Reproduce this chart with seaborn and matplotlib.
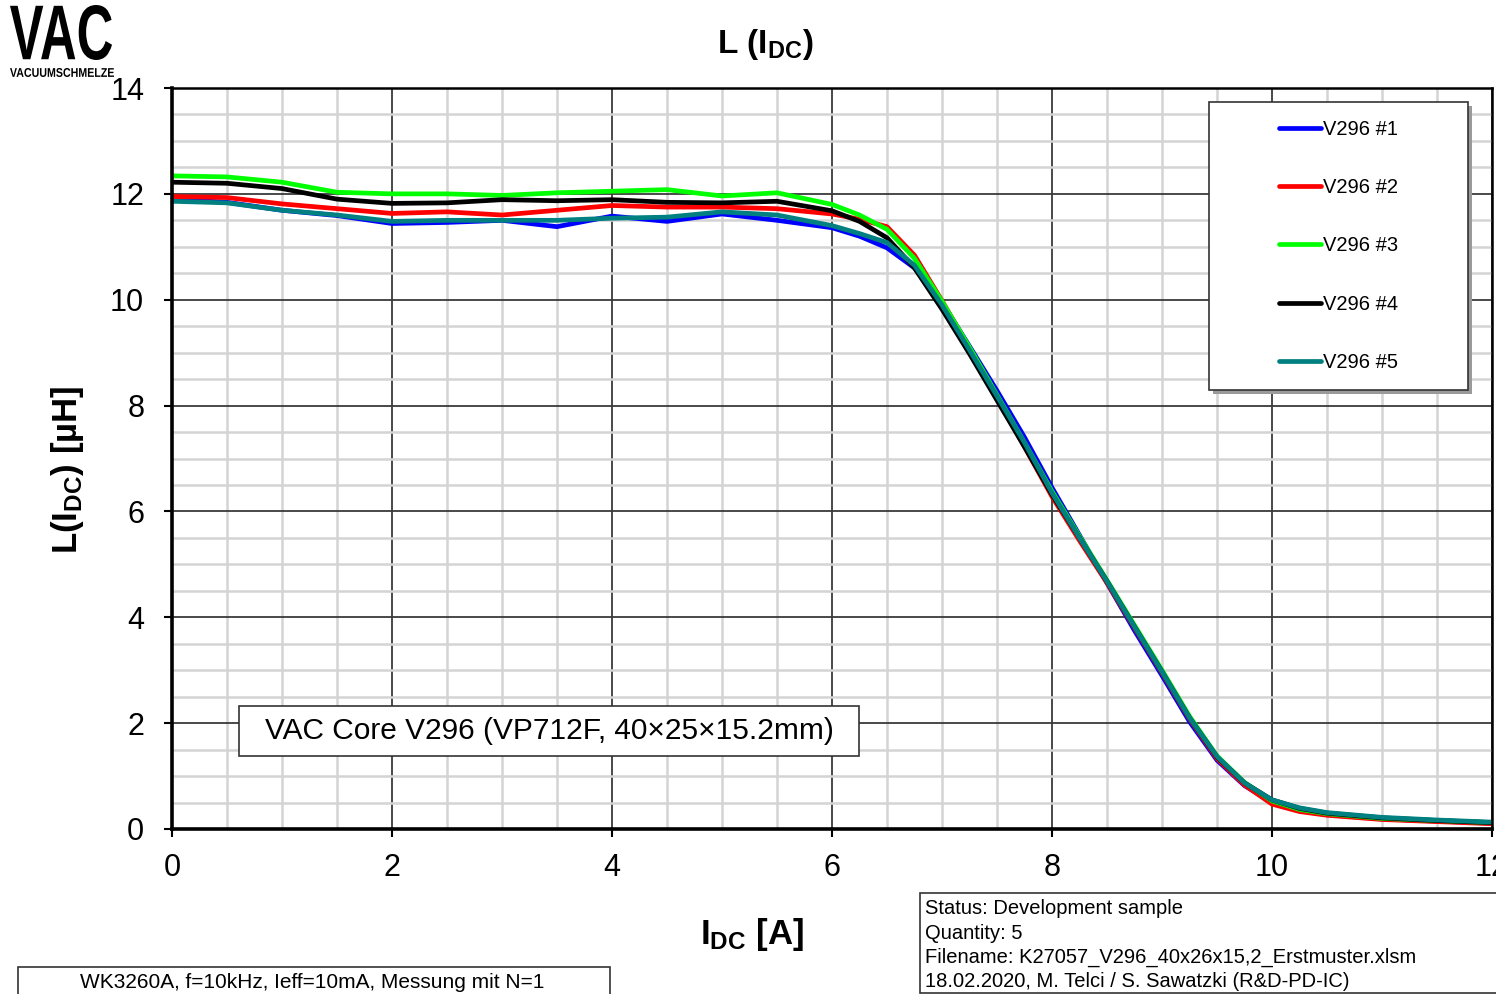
import matplotlib
matplotlib.use("Agg")
import matplotlib.pyplot as plt
import pandas as pd
import seaborn as sns
from matplotlib.font_manager import FontProperties
from matplotlib.lines import Line2D
from matplotlib.patches import PathPatch, Rectangle
from matplotlib.textpath import TextPath
from matplotlib.ticker import MultipleLocator
from matplotlib.transforms import Affine2D

# measured points, I_DC in A
current = [0, 0.5, 1, 1.5, 2, 2.5, 3, 3.5, 4, 4.5, 5, 5.5, 6, 6.25, 6.5, 6.75,
           7, 7.25, 7.5, 7.75, 8, 8.25, 8.5, 8.75, 9, 9.25, 9.5, 9.75, 10,
           10.25, 10.5, 11, 11.5, 12]

# inductance in uH
v296_1 = [11.90, 11.84, 11.69, 11.59, 11.44, 11.46, 11.50, 11.38, 11.58, 11.48,
          11.62, 11.50, 11.36, 11.20, 10.98, 10.60, 9.95, 9.12, 8.28, 7.40,
          6.45, 5.55, 4.65, 3.75, 2.90, 2.03, 1.30, 0.82, 0.50, 0.35, 0.27,
          0.19, 0.15, 0.11]
v296_2 = [11.95, 11.93, 11.81, 11.72, 11.63, 11.66, 11.60, 11.69, 11.78, 11.75,
          11.75, 11.72, 11.62, 11.52, 11.38, 10.84, 9.98, 9.08, 8.15, 7.22,
          6.28, 5.45, 4.65, 3.80, 2.95, 2.08, 1.33, 0.83, 0.47, 0.33, 0.26,
          0.18, 0.14, 0.10]
v296_3 = [12.34, 12.32, 12.22, 12.03, 12.00, 12.00, 11.97, 12.02, 12.05, 12.08,
          11.96, 12.02, 11.80, 11.60, 11.33, 10.78, 9.97, 9.10, 8.20, 7.30,
          6.38, 5.53, 4.70, 3.85, 3.00, 2.13, 1.38, 0.88, 0.53, 0.37, 0.29,
          0.20, 0.16, 0.12]
v296_4 = [12.22, 12.20, 12.10, 11.90, 11.82, 11.83, 11.89, 11.87, 11.89, 11.84,
          11.83, 11.86, 11.68, 11.48, 11.17, 10.60, 9.82, 8.98, 8.10, 7.22,
          6.32, 5.50, 4.68, 3.82, 2.97, 2.10, 1.36, 0.87, 0.55, 0.39, 0.30,
          0.21, 0.16, 0.12]
v296_5 = [11.86, 11.83, 11.69, 11.60, 11.48, 11.50, 11.50, 11.50, 11.54, 11.56,
          11.66, 11.60, 11.40, 11.25, 11.08, 10.65, 9.90, 9.05, 8.18, 7.30,
          6.35, 5.50, 4.68, 3.82, 2.97, 2.10, 1.37, 0.87, 0.55, 0.40, 0.31,
          0.22, 0.17, 0.13]

names = ["V296 #1", "V296 #2", "V296 #3", "V296 #4", "V296 #5"]
colors = ["#0000ff", "#ff0000", "#00ff00", "#000000", "#008080"]

df = pd.concat([
    pd.DataFrame({"I": current, "L": vals, "sample": name})
    for name, vals in zip(names, [v296_1, v296_2, v296_3, v296_4, v296_5])
])

sns.set_theme(style="white")
plt.rcParams["font.family"] = ["Liberation Sans", "DejaVu Sans"]
plt.rcParams["mathtext.fontset"] = "custom"
plt.rcParams["mathtext.rm"] = "Liberation Sans"
plt.rcParams["mathtext.bf"] = "Liberation Sans:bold"
plt.rcParams["mathtext.it"] = "Liberation Sans:italic"
for key in ["text.color", "axes.labelcolor", "xtick.color", "ytick.color"]:
    plt.rcParams[key] = "black"

W, H = 1496, 994
fig = plt.figure(figsize=(W / 100, H / 100), dpi=100)
ax = fig.add_axes([172 / W, 1 - 829 / H, 1320 / W, 741 / H])

sns.lineplot(data=df, x="I", y="L", hue="sample", palette=colors,
             linewidth=3.4, ax=ax, legend=False, sort=False,
             solid_joinstyle="round", solid_capstyle="round")

ax.set_xlim(0, 12)
ax.set_ylim(0, 14)
ax.xaxis.set_major_locator(MultipleLocator(2))
ax.yaxis.set_major_locator(MultipleLocator(2))
ax.xaxis.set_minor_locator(MultipleLocator(0.5))
ax.yaxis.set_minor_locator(MultipleLocator(0.5))
ax.grid(which="minor", color="#d4d4d4", linewidth=1.8)
ax.grid(which="major", color="#3a3a3a", linewidth=1.3)
ax.set_axisbelow(True)

for side in ["left", "bottom"]:
    ax.spines[side].set_linewidth(2.6)
    ax.spines[side].set_color("black")
for side in ["top", "right"]:
    ax.spines[side].set_linewidth(1.8)
    ax.spines[side].set_color("black")

ax.tick_params(which="major", direction="out", length=6, width=1.5,
               labelsize=22, color="black", left=True, bottom=True)
ax.tick_params(axis="x", pad=11)
ax.tick_params(axis="y", pad=14)
ax.tick_params(which="minor", length=0)

ax.set_xlabel(r"$\mathbf{I_{DC}}$ [A]", fontsize=25, fontweight="bold")
ax.set_ylabel(r"$\mathbf{L(I_{DC})}$ [µH]", fontsize=25, fontweight="bold")
ax.xaxis.set_label_coords((752 - 172) / 1320, -(916 - 829) / 741)
ax.yaxis.set_label_coords(-(172 - 86) / 1320, 0.485)

fig.text(765 / W, 1 - 45 / H, r"L ($\mathbf{I_{DC}}$)", fontsize=24,
         fontweight="bold", ha="center", va="center")

# legend with shadowed frame
lx0, lx1 = (1209 - 172) / 1320, (1468 - 172) / 1320
ly0, ly1 = (829 - 390) / 741, (829 - 102) / 741
ax.add_patch(Rectangle((lx0 + 0.003, ly0 - 0.005), lx1 - lx0, ly1 - ly0,
                       transform=ax.transAxes, facecolor="#9a9a9a",
                       edgecolor="none", zorder=4))
ax.add_patch(Rectangle((lx0, ly0), lx1 - lx0, ly1 - ly0,
                       transform=ax.transAxes, facecolor="white",
                       edgecolor="#333333", linewidth=1.2, zorder=5))
handles = [Line2D([], [], color=c, linewidth=3.4, solid_capstyle="round")
           for c in colors]
leg = ax.legend(handles, names, loc="center",
                bbox_to_anchor=(lx0, ly0, lx1 - lx0, ly1 - ly0),
                frameon=False, fontsize=14.5, labelspacing=1.95,
                handlelength=2.1, handletextpad=0.1, borderaxespad=0)
leg.set_zorder(6)

# sample description box
bx0, bx1 = (239 - 172) / 1320, (859 - 172) / 1320
by0, by1 = (829 - 756) / 741, (829 - 706) / 741
ax.add_patch(Rectangle((bx0, by0), bx1 - bx0, by1 - by0,
                       transform=ax.transAxes, facecolor="white",
                       edgecolor="#333333", linewidth=1.2, zorder=5))
ax.text((bx0 + bx1) / 2, (by0 + by1) / 2,
        "VAC Core V296 (VP712F, 40×25×15.2mm)", transform=ax.transAxes,
        fontsize=21.5, ha="center", va="center", zorder=6)

# info boxes below the plot
fig.patches.append(Rectangle((920 / W, 1 - 993 / H), 600 / W, 100 / H,
                             transform=fig.transFigure, facecolor="white",
                             edgecolor="#333333", linewidth=1.2))
status_lines = ["Status: Development sample", "Quantity: 5",
                "Filename: K27057_V296_40x26x15,2_Erstmuster.xlsm",
                "18.02.2020, M. Telci / S. Sawatzki (R&D-PD-IC)"]
for i, line in enumerate(status_lines):
    fig.text(925 / W, 1 - (909 + 24.3 * i) / H, line, fontsize=14.5,
             ha="left", va="center")

fig.patches.append(Rectangle((18 / W, 1 - 1000 / H), 592 / W, 33 / H,
                             transform=fig.transFigure, facecolor="white",
                             edgecolor="#333333", linewidth=1.2))
fig.text(312 / W, 1 - 983 / H, "WK3260A, f=10kHz, Ieff=10mA, Messung mit N=1",
         fontsize=15, ha="center", va="center")


def add_logo_text(text, x0, y0, w, h, weight):
    # squeeze the glyph outlines into a fixed pixel box
    path = TextPath((0, 0), text, size=1,
                    prop=FontProperties(family="Liberation Sans", weight=weight))
    bb = path.get_extents()
    tr = (Affine2D().translate(-bb.x0, -bb.y0)
          .scale(w / bb.width / W, h / bb.height / H)
          .translate(x0 / W, 1 - y0 / H) + fig.transFigure)
    fig.patches.append(PathPatch(path, transform=tr, facecolor="black",
                                 edgecolor="none"))


add_logo_text("VAC", 10, 60, 102, 55, "heavy")
add_logo_text("VACUUMSCHMELZE", 10, 77, 104, 9, "bold")

fig.savefig("out.png", dpi=100, facecolor="white")
